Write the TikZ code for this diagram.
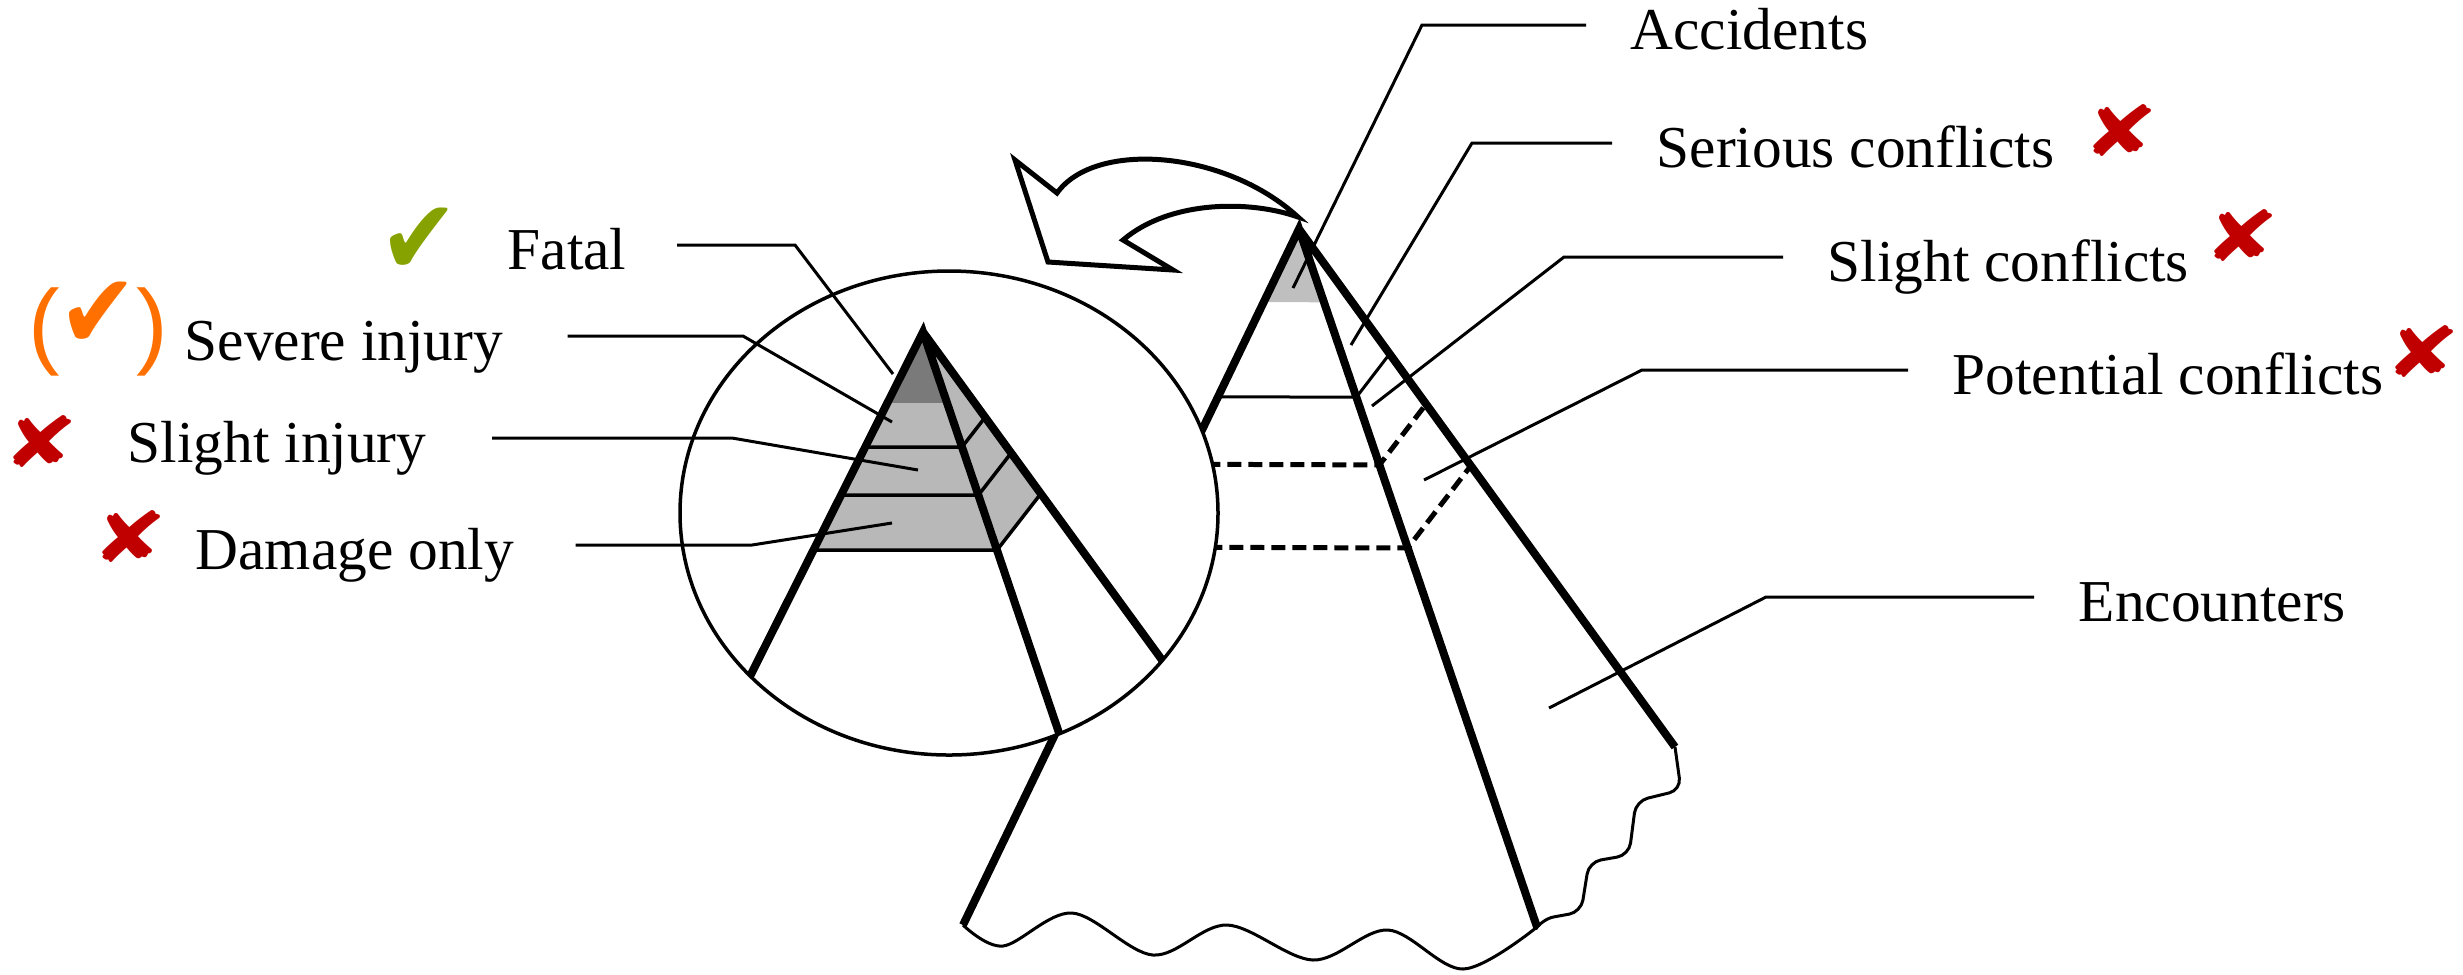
\documentclass[tikz,border=0pt]{standalone}
\usepackage{fontspec}
\setmainfont{Liberation Serif}
\newfontfamily\symfont{DejaVu Sans}
\newfontfamily\parfont{Liberation Sans}
\usetikzlibrary{calc}
\definecolor{xred}{RGB}{192,0,0}
\definecolor{okgreen}{RGB}{134,162,0}
\definecolor{okorange}{RGB}{255,112,0}
\begin{document}
\begin{tikzpicture}[x=0.1mm,y=-0.1mm,line join=miter,
  edge/.style={line width=0.8mm},
  thinline/.style={line width=0.3mm},
  leader/.style={line width=0.3mm},
  dashline/.style={line width=0.5mm,dash pattern=on 1.4mm off 0.7mm},
  lbl/.style={font=\fontsize{16.9}{20}\selectfont,inner sep=0pt,text height=14.2pt,text depth=0pt,anchor=west},
  cross/.style={font=\symfont\fontsize{20}{20}\selectfont,text=xred,inner sep=0pt,xscale=1.3},
  tick/.style={font=\symfont\fontsize{30}{30}\selectfont,inner sep=0pt,xscale=0.9}]
\useasboundingbox (0,0) rectangle (2463,974);

% large pyramid
\coordinate (A) at (1299,229);
\coordinate (L) at (963,925);
\coordinate (M) at (1537,927);
\coordinate (R) at (1675,747);
\fill[black!25] (A) -- ($(A)!0.105!(L)$) -- ($(A)!0.105!(M)$) -- cycle;
\draw[thinline] ($(A)!0.241!(L)$) -- ($(A)!0.241!(M)$) -- ($(A)!0.241!(R)$);
\foreach \f in {0.338,0.457} {
  \draw[dashline] ($(A)!\f!(L)$) -- ($(A)!\f!(M)$) -- ($(A)!\f!(R)$);
}
\draw[edge] (L) -- (A) -- (M) (A) -- (R);
\draw[thinline] plot[smooth,tension=0.55] coordinates {(963,925) (1003,946) (1072,913) (1153,955) (1227,925) (1313,960) (1388,930) (1463,969) (1537,927)};
\draw[thinline,rounded corners=1.2mm] (R) -- (1681,790) -- (1636,801) -- (1629,855) -- (1589,862) -- (1581,912) -- (1542,919) -- (M);

% labels on the right
\node[lbl] (acc) at (1630,25) {Accidents};
\node[lbl] (ser) at (1656,143) {Serious conflicts};
\node[lbl] (sli) at (1827,257) {Slight conflicts};
\node[lbl] (pot) at (1952,370) {Potential conflicts};
\node[lbl] (enc) at (2078,597) {Encounters};
\coordinate (accB) at (1422,25);  \coordinate (accE) at (1293,288);
\coordinate (serB) at (1472,143); \coordinate (serE) at (1351,345);
\coordinate (sliB) at (1564,257); \coordinate (sliE) at (1372,406);
\coordinate (potB) at (1642,370); \coordinate (potE) at (1424,480);
\coordinate (encB) at (1766,597); \coordinate (encE) at (1549,708);
\draw[leader] ([xshift=-4.4mm]acc.west) -- (accB) -- (accE);
\draw[leader] ([xshift=-4.4mm]ser.west) -- (serB) -- (serE);
\draw[leader] ([xshift=-4.4mm]sli.west) -- (sliB) -- (sliE);
\draw[leader] ([xshift=-4.4mm]pot.west) -- (potB) -- (potE);
\draw[leader] ([xshift=-4.4mm]enc.west) -- (encB) -- (encE);

% magnifier
\draw[line width=0.35mm,fill=white] (949,513) ellipse [x radius=26.9mm,y radius=24.2mm];
\coordinate (a) at (923,332);
\coordinate (l) at (723,730);
\coordinate (m) at (1058,730);
\coordinate (r) at (1138,627);
\begin{scope}
\clip (949,513) ellipse [x radius=26.9mm,y radius=24.2mm];
\fill[black!28] (a) -- ($(a)!0.548!(l)$) -- ($(a)!0.548!(m)$) -- ($(a)!0.548!(r)$) -- cycle;
\fill[black!52] (a) -- ($(a)!0.178!(l)$) -- ($(a)!0.178!(m)$) -- cycle;
\foreach \f in {0.289,0.410,0.548} {
  \draw[line width=0.35mm] ($(a)!\f!(l)$) -- ($(a)!\f!(m)$) -- ($(a)!\f!(r)$);
}
\draw[edge] ($(a)!1.2!(l)$) -- (a) -- ($(a)!1.2!(m)$) (a) -- ($(a)!1.2!(r)$);
\end{scope}

% labels on the left
\node[lbl] (fat) at (507,245) {Fatal};
\node[lbl] (sev) at (184,336) {Severe injury};
\node[lbl] (sinj) at (127,438) {Slight injury};
\node[lbl] (dmg) at (195,545) {Damage only};
\coordinate (fatB) at (795,245);  \coordinate (fatE) at (893,374);
\coordinate (sevB) at (743,336);  \coordinate (sevE) at (892,422);
\coordinate (sinjB) at (732,438); \coordinate (sinjE) at (918,470);
\coordinate (dmgB) at (752,545);  \coordinate (dmgE) at (892,523);
\draw[leader] ([xshift=5mm]fat.east) -- (fatB) -- (fatE);
\draw[leader] ([xshift=6.4mm]sev.east) -- (sevB) -- (sevE);
\draw[leader] ([xshift=6.5mm]sinj.east) -- (sinjB) -- (sinjE);
\draw[leader] ([xshift=6.1mm]dmg.east) -- (dmgB) -- (dmgE);

% curved arrow
\draw[line width=0.5mm,fill=white] (1015,160) -- (1057,193) .. controls (1095,140) and (1225,150) .. (1298,217)
  .. controls (1250,200) and (1170,200) .. (1123,240) -- (1173,270) -- (1048,262) -- cycle;

% marks
\node[tick,text=okgreen] (okfat) at (419,241) {✔};
\node[tick,text=okorange] (oksev) at (98,315) {✔};
\node[font=\parfont\fontsize{27}{27}\selectfont,text=okorange,inner sep=0pt] (lpar) at (44,332) {(};
\node[font=\parfont\fontsize{27}{27}\selectfont,text=okorange,inner sep=0pt] (rpar) at (152,332) {)};
\node[cross] (xsinj) at (41,442) {✘};
\node[cross] (xdmg) at (130,537) {✘};
\node[cross] (xser) at (2121,131) {✘};
\node[cross] (xsli) at (2242,236) {✘};
\node[cross] (xpot) at (2423,352) {✘};
\end{tikzpicture}
\end{document}
